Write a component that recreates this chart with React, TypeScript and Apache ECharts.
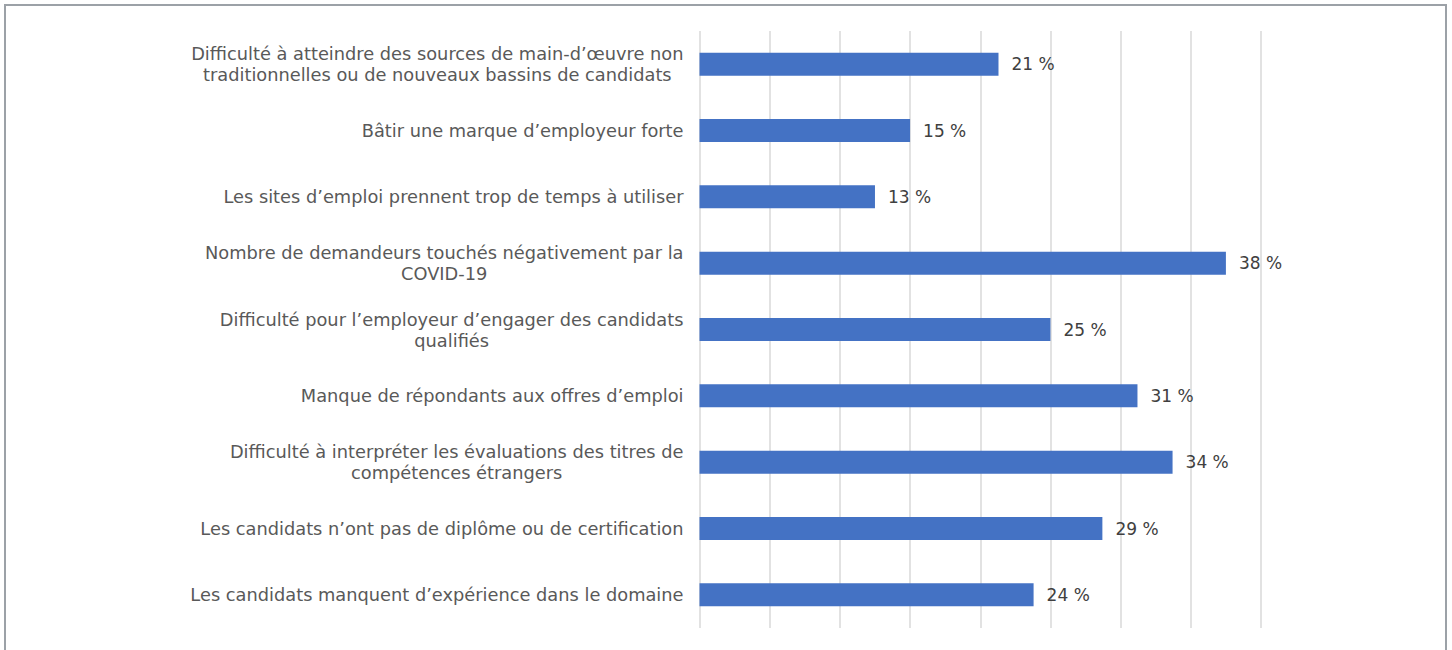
import React, { useEffect, useRef } from "react";
import * as echarts from "echarts";

const categories: string[] = [
  "Difficulté à atteindre des sources de main-d’œuvre non\ntraditionnelles ou de nouveaux bassins de candidats",
  "Bâtir une marque d’employeur forte",
  "Les sites d’emploi prennent trop de temps à utiliser",
  "Nombre de demandeurs touchés négativement par la\nCOVID-19",
  "Difficulté pour l’employeur d’engager des candidats\nqualifiés",
  "Manque de répondants aux offres d’emploi",
  "Difficulté à interpréter les évaluations des titres de\ncompétences étrangers",
  "Les candidats n’ont pas de diplôme ou de certification",
  "Les candidats manquent d’expérience dans le domaine",
];

const values: number[] = [21.3, 15.0, 12.5, 37.5, 25.0, 31.2, 33.7, 28.7, 23.8];

const xMin = 0;
const xMax = 40;
const xInterval = 5;

export default function App() {
  const ref = useRef<HTMLDivElement>(null);
  useEffect(() => {
    if (!ref.current) return;
    const chart = echarts.init(ref.current, null, { renderer: "svg" });
    const font = "'DejaVu Sans', sans-serif";
    chart.setOption({
      animation: false,
      backgroundColor: "#ffffff",
      graphic: [
        {
          type: "rect",
          shape: { x: 5, y: 5, width: 1441, height: 700 },
          style: { fill: "none", stroke: "#9ca1a7", lineWidth: 2 },
          silent: true,
          z: 0,
        },
      ],
      grid: { left: 699.5, right: 191, top: 31, bottom: 22, containLabel: false },
      xAxis: {
        type: "value",
        min: xMin,
        max: xMax,
        interval: xInterval,
        axisLabel: { show: false },
        axisLine: { show: false },
        axisTick: { show: false },
        splitLine: { show: true, lineStyle: { color: "#d9d9d9", width: 1.5 } },
      },
      yAxis: {
        type: "category",
        inverse: true,
        data: categories,
        axisLine: { show: false },
        axisTick: { show: false },
        axisLabel: {
          margin: 16,
          color: "#595959",
          fontFamily: font,
          fontSize: 17.8,
          lineHeight: 21,
          formatter: (v: string) =>
            v
              .split("\n")
              .map((l) => `{c|${l}}`)
              .join("\n"),
          rich: {
            c: {
              align: "center",
              color: "#595959",
              fontFamily: font,
              fontSize: 17.8,
              lineHeight: 21,
            },
          },
        },
      },
      series: [
        {
          type: "bar",
          data: values,
          barWidth: 23,
          itemStyle: { color: "#4472c4" },
          label: {
            show: true,
            position: "right",
            distance: 13,
            color: "#404040",
            fontFamily: font,
            fontSize: 17,
            formatter: (p: any) => `${Math.round(p.value)} %`,
          },
        },
      ],
    });
    return () => chart.dispose();
  }, []);
  return (
    <div
      ref={ref}
      style={{ position: "fixed", left: 0, top: 0, width: 1452, height: 650 }}
    />
  );
}
